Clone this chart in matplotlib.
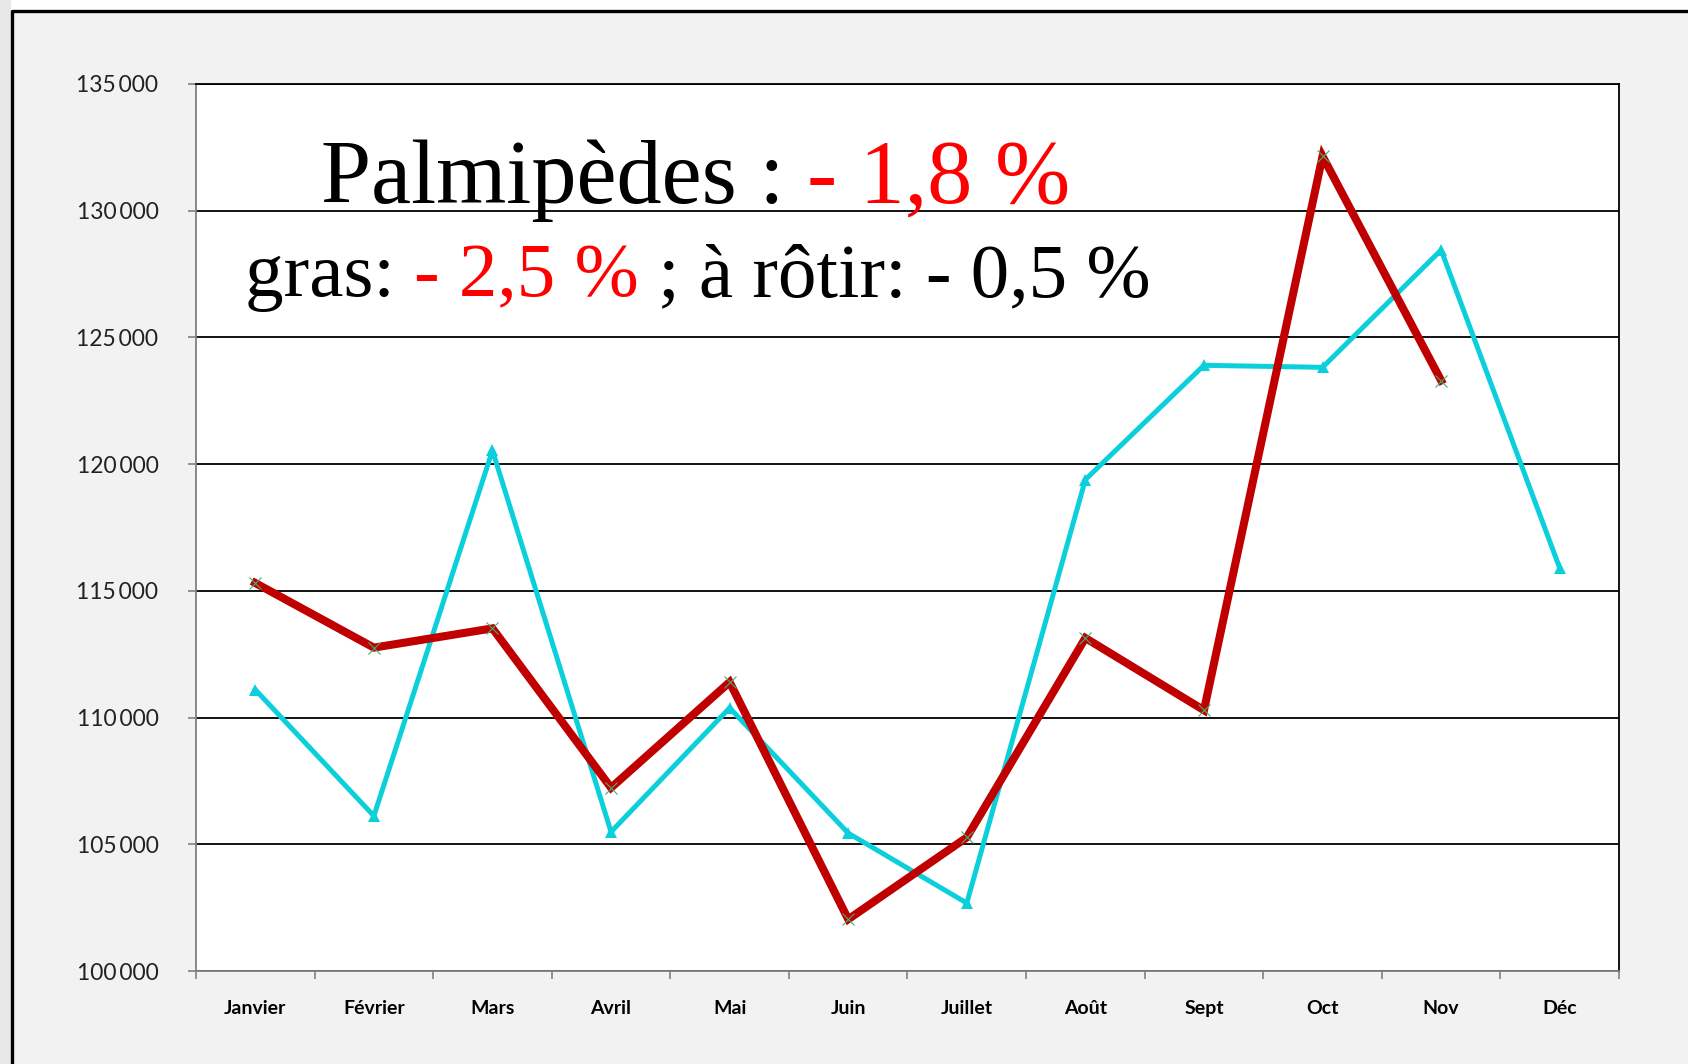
import matplotlib
matplotlib.use("Agg")
import matplotlib.pyplot as plt
from matplotlib.patches import Rectangle
from matplotlib.lines import Line2D
from matplotlib.ticker import FuncFormatter

months = ['Janvier', 'Février', 'Mars', 'Avril', 'Mai', 'Juin', 'Juillet',
          'Août', 'Sept', 'Oct', 'Nov', 'Déc']
# red series (stops at Nov)
red_vals = [115310, 112760, 113520, 107230, 111400, 102040, 105270,
            113140, 110290, 132150, 123300]
# cyan series
cyan_vals = [111100, 106120, 120540, 105490, 110380, 105440, 102680,
             119390, 123900, 123820, 128450, 115900]

title_1 = [('Palmipèdes : ', 'black'), ('- 1,8 %', '#FF0000')]
title_2 = [('gras: ', 'black'), ('- 2,5 %', '#FF0000'),
           (' ; à rôtir: - 0,5 %', 'black')]

W, H = 1688, 1064
fig = plt.figure(figsize=(W / 100, H / 100), dpi=100, facecolor='#F2F2F2')

# outer frame like the slide
fig.patches.append(Rectangle((0, 1 - 11 / H), 1, 11 / H, transform=fig.transFigure,
                             facecolor='white', edgecolor='none', zorder=0))
fig.patches.append(Rectangle((0, 0), 11 / W, 1, transform=fig.transFigure,
                             facecolor='#E8E8E8', edgecolor='none', zorder=0))
fig.lines.append(Line2D([12 / W, 12 / W, 1], [0, 1 - 11 / H, 1 - 11 / H],
                        transform=fig.transFigure, color='black', lw=2.4))

ax = fig.add_axes([196 / W, 93 / H, 1423 / W, 887 / H])
ax.set_facecolor('white')

x = list(range(len(months)))
ax.plot(x, cyan_vals, color='#0BD0DC', lw=3.6, marker='^', ms=9,
        markeredgewidth=0, zorder=3)
ax.plot(x[:len(red_vals)], red_vals, color='#C00000', lw=5.8, marker='x',
        ms=9, markeredgecolor='#3CB371', markeredgewidth=0.8, zorder=4,
        solid_joinstyle='miter')

ax.set_xlim(-0.5, 11.5)
ax.set_ylim(100000, 135000)
ax.set_yticks(range(100000, 135001, 5000))
ax.yaxis.set_major_formatter(FuncFormatter(lambda v, p: f'{int(v):,}'.replace(',', '\u2009')))
ax.yaxis.grid(True, color='black', lw=1.3)
ax.set_axisbelow(True)

ax.set_xticks(x)
ax.set_xticklabels(months)
ax.set_xticks([i - 0.5 for i in range(13)], minor=True)
ax.tick_params(axis='x', which='major', length=0, pad=21)
ax.tick_params(axis='x', which='minor', length=6, color='#808080', width=1.2)
ax.tick_params(axis='y', length=6, color='#808080', width=1.2, pad=21)

for lab in ax.get_xticklabels():
    lab.set_fontfamily('Lato')
    lab.set_fontweight('bold')
    lab.set_fontsize(14)
for lab in ax.get_yticklabels():
    lab.set_fontfamily('Lato')
    lab.set_fontsize(16.5)
    lab.set_color('#222222')

for s in ['left', 'bottom']:
    ax.spines[s].set_color('#808080')
    ax.spines[s].set_linewidth(1.3)
for s in ['top', 'right']:
    ax.spines[s].set_color('black')
    ax.spines[s].set_linewidth(1.3)

# two-coloured title lines, pieces placed side by side
renderer = fig.canvas.get_renderer()


def colored_line(parts, x0, ybase, size):
    xpos = x0
    for txt, col in parts:
        t = fig.text(xpos / W, 1 - ybase / H, txt, color=col, fontsize=size,
                     family='Liberation Serif', va='baseline', ha='left')
        bb = t.get_window_extent(renderer=renderer)
        xpos += bb.width


colored_line(title_1, 321, 203, 65)
colored_line(title_2, 245, 296, 55.5)

fig.savefig('out.png', dpi=100, facecolor=fig.get_facecolor())
